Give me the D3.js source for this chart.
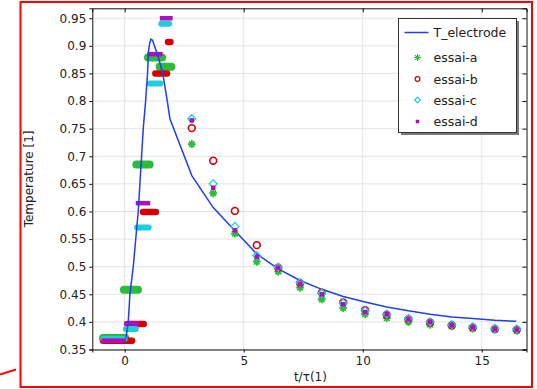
<!DOCTYPE html>
<html>
<head>
<meta charset="utf-8">
<script src="https://cdn.jsdelivr.net/npm/d3@7/dist/d3.min.js"></script>
<style>
  body { margin: 0; background: #fff; }
  svg { display: block; font-family: "DejaVu Sans", sans-serif; }
</style>
</head>
<body>
<div id="chart"></div>
<script>
// axis ticks
const xTicks = [0, 5, 10, 15];
const yTicks = [0.35, 0.4, 0.45, 0.5, 0.55, 0.6, 0.65, 0.7, 0.75, 0.8, 0.85, 0.9, 0.95];
const yTickLabels = ['0.35', '0.4', '0.45', '0.5', '0.55', '0.6', '0.65', '0.7', '0.75', '0.8', '0.85', '0.9', '0.95'];

// T_electrode curve
const lineT = [0.05, 0.15, 0.22, 0.36, 0.57, 0.71, 0.78, 0.88, 0.96, 1.0, 1.05, 1.1, 1.17, 1.25, 1.41, 1.6, 1.79, 1.9,
  2.82, 3.72, 4.63, 5.55, 6.45, 7.37, 8.28, 9.18, 10.1, 11.01, 11.92, 12.83, 13.74, 14.62, 15.55, 16.45];
const lineV = [0.37, 0.40, 0.45, 0.50, 0.60, 0.70, 0.75, 0.80, 0.85, 0.89, 0.905, 0.912, 0.91, 0.9, 0.88, 0.85, 0.80, 0.768,
  0.665, 0.607, 0.565, 0.523, 0.496, 0.475, 0.459, 0.446, 0.436, 0.427, 0.42, 0.414, 0.409, 0.406, 0.403, 0.401];

// measured points after the pulse
const tPts = [2.82, 3.72, 4.63, 5.55, 6.45, 7.37, 8.28, 9.18, 10.1, 11.01, 11.92, 12.83, 13.74, 14.62, 15.55, 16.47];
const essaiA = [0.722, 0.633, 0.56, 0.509, 0.491, 0.462, 0.441, 0.425, 0.414, 0.407, 0.4, 0.395, 0.392, 0.388, 0.386, 0.384];
const essaiB = [0.751, 0.692, 0.601, 0.539, 0.498, 0.47, 0.453, 0.435, 0.421, 0.413, 0.405, 0.399, 0.394, 0.39, 0.387, 0.386];
const essaiC = [0.768, 0.65, 0.573, 0.52, 0.499, 0.471, 0.452, 0.434, 0.42, 0.414, 0.406, 0.4, 0.395, 0.391, 0.388, 0.387];
const essaiD = [0.765, 0.643, 0.566, 0.518, 0.498, 0.469, 0.45, 0.432, 0.418, 0.414, 0.405, 0.4, 0.394, 0.39, 0.387, 0.386];

// plateaus during the pulse: [t start, t end, value]
const stepA = [[-0.91, 0.03, 0.371], [-0.03, 0.56, 0.458], [0.49, 1.05, 0.685], [0.98, 1.57, 0.879], [1.47, 1.96, 0.862]];
const stepB = [[-0.91, 0.31, 0.366], [0.14, 0.8, 0.396], [0.77, 1.31, 0.599], [1.29, 1.78, 0.85], [1.82, 1.92, 0.907]];
const stepC = [[-0.9, 0.0, 0.369], [0.05, 0.47, 0.387], [0.52, 1.01, 0.571], [1.05, 1.5, 0.832], [1.54, 1.87, 0.94]];
const stepD = [[-0.88, -0.04, 0.366], [0.07, 0.52, 0.397], [0.56, 0.98, 0.615], [1.05, 1.5, 0.885], [1.57, 1.92, 0.95]];

const series = [
  {name: 'essai-a', vals: essaiA, steps: stepA, color: '#2dbb3c', shape: 'star', bar: 8, cap: 'round'},
  {name: 'essai-b', vals: essaiB, steps: stepB, color: '#d60000', shape: 'circle', bar: 6.5, cap: 'round'},
  {name: 'essai-c', vals: essaiC, steps: stepC, color: '#1ccfd8', shape: 'diamond', bar: 6, cap: 'round'},
  {name: 'essai-d', vals: essaiD, steps: stepD, color: '#b00cc0', shape: 'square', bar: 4.5, cap: 'square'}
];
const lineColor = '#1f3ff0';

const W = 537, H = 389;
const plot = {left: 92.3, right: 526.5, top: 8.3, bottom: 349.5};

const svg = d3.select('#chart').append('svg')
  .attr('width', W)
  .attr('height', H);

const x = d3.scaleLinear().domain([-1.36, 16.88]).range([plot.left, plot.right]);
const y = d3.scaleLinear().domain([0.35, 0.968]).range([plot.bottom, plot.top]);

// grid
const grid = svg.append('g');
grid.selectAll('line.gx').data(xTicks).enter().append('line')
  .attr('x1', d => x(d)).attr('x2', d => x(d))
  .attr('y1', plot.top).attr('y2', plot.bottom)
  .attr('stroke', '#e4e4e4').attr('stroke-width', 1);
grid.selectAll('line.gy').data(yTicks).enter().append('line')
  .attr('y1', d => y(d)).attr('y2', d => y(d))
  .attr('x1', plot.left).attr('x2', plot.right)
  .attr('stroke', '#e4e4e4').attr('stroke-width', 1);

// axes: outer ticks left/bottom, inner ticks top/right
const fmtY = (d, i) => yTickLabels[i];
svg.append('g')
  .attr('transform', 'translate(' + plot.left + ',0)')
  .call(d3.axisLeft(y).tickValues(yTicks).tickFormat(fmtY).tickSize(3).tickPadding(3));
svg.append('g')
  .attr('transform', 'translate(0,' + plot.bottom + ')')
  .call(d3.axisBottom(x).tickValues(xTicks).tickSize(3).tickPadding(4));
svg.append('g')
  .attr('transform', 'translate(' + plot.right + ',0)')
  .call(d3.axisRight(y).tickValues(yTicks).tickFormat('').tickSize(-4));
svg.append('g')
  .attr('transform', 'translate(0,' + plot.top + ')')
  .call(d3.axisTop(x).tickValues(xTicks).tickFormat('').tickSize(-4));

svg.selectAll('.domain').attr('stroke', '#111');
svg.selectAll('.tick line').attr('stroke', '#111');
svg.selectAll('.tick text').attr('font-size', 12).attr('fill', '#222').attr('font-family', 'DejaVu Sans');

// axis titles
svg.append('text')
  .attr('x', (plot.left + plot.right) / 2 + 1)
  .attr('y', 381)
  .attr('text-anchor', 'middle')
  .attr('font-size', 12)
  .attr('fill', '#222')
  .text('t/τ(1)');
svg.append('text')
  .attr('transform', 'translate(33,' + ((plot.top + plot.bottom) / 2) + ')rotate(-90)')
  .attr('text-anchor', 'middle')
  .attr('font-size', 12)
  .attr('fill', '#222')
  .text('Temperature [1]');

// marker shapes
function marker(g, shape, color, s, sw) {
  if (shape === 'star') {
    const a = s, b = s * 0.7;
    g.append('path')
      .attr('d', 'M' + (-a) + ',0H' + a + 'M0,' + (-a) + 'V' + a +
        'M' + (-b) + ',' + (-b) + 'L' + b + ',' + b + 'M' + (-b) + ',' + b + 'L' + b + ',' + (-b))
      .attr('stroke', color).attr('stroke-width', sw || 1.8).attr('fill', 'none');
  } else if (shape === 'circle') {
    g.append('circle').attr('r', s * 0.85)
      .attr('stroke', color).attr('stroke-width', sw || 1.6).attr('fill', 'none');
  } else if (shape === 'diamond') {
    g.append('path')
      .attr('d', 'M0,' + (-s) + 'L' + s + ',0L0,' + s + 'L' + (-s) + ',0Z')
      .attr('stroke', color).attr('stroke-width', sw || 1.3).attr('fill', 'none');
  } else {
    g.append('rect').attr('x', -s / 2).attr('y', -s / 2).attr('width', s).attr('height', s)
      .attr('fill', color);
  }
}

const chart = svg.append('g');

// plateau bars (overlapping markers)
series.forEach(s => {
  chart.selectAll(null).data(s.steps).enter().append('line')
    .attr('x1', d => x(d[0])).attr('x2', d => x(d[1]))
    .attr('y1', d => y(d[2])).attr('y2', d => y(d[2]))
    .attr('stroke', s.color)
    .attr('stroke-width', s.bar)
    .attr('stroke-linecap', s.cap);
});

// simulated curve
const lineGen = d3.line()
  .x(d => x(d[0]))
  .y(d => y(d[1]));
chart.append('path')
  .datum(lineT.map((t, i) => [t, lineV[i]]))
  .attr('d', lineGen)
  .attr('fill', 'none')
  .attr('stroke', lineColor)
  .attr('stroke-width', 1.5);

// scatter points
const sizes = {star: 4, circle: 4, diamond: 4, square: 4.5};
series.forEach(s => {
  s.vals.forEach((v, i) => {
    const g = chart.append('g').attr('transform', 'translate(' + x(tPts[i]) + ',' + y(v) + ')');
    marker(g, s.shape, s.color, sizes[s.shape]);
  });
});

// legend
const lg = svg.append('g').attr('transform', 'translate(398.5,18.5)');
lg.append('rect').attr('x', 2.5).attr('y', 2.5).attr('width', 118).attr('height', 114).attr('fill', '#7a7a7a');
lg.append('rect').attr('width', 118).attr('height', 114).attr('fill', '#fff').attr('stroke', '#333').attr('stroke-width', 1);
lg.append('line').attr('x1', 6).attr('x2', 30).attr('y1', 14).attr('y2', 14)
  .attr('stroke', lineColor).attr('stroke-width', 1.5);
lg.append('text').attr('x', 35).attr('y', 18.5).attr('font-size', 12.5).attr('fill', '#222').text('T_electrode');
const legY = [39, 60.5, 81.5, 103];
const legSizes = {star: 3.5, circle: 2.8, diamond: 2.8, square: 3.5};
series.forEach((s, i) => {
  const g = lg.append('g').attr('transform', 'translate(19,' + legY[i] + ')');
  marker(g, s.shape, s.color, legSizes[s.shape], s.shape === 'star' ? 1.1 : 1.2);
  lg.append('text').attr('x', 35).attr('y', legY[i] + 4.5).attr('font-size', 12.5).attr('fill', '#222').text(s.name);
});

// red annotation frame
svg.append('rect').attr('x', 20.5).attr('y', 2).attr('width', 511.5).attr('height', 385)
  .attr('fill', 'none').attr('stroke', '#f00').attr('stroke-width', 2);
svg.append('line').attr('x1', 0).attr('y1', 374.5).attr('x2', 16).attr('y2', 369.5)
  .attr('stroke', '#f00').attr('stroke-width', 2);
</script>
</body>
</html>
